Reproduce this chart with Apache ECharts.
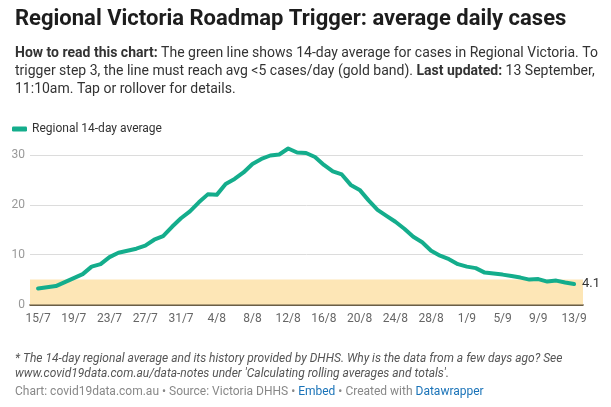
<!DOCTYPE html>
<html>
<head>
<meta charset="utf-8">
<script src="https://cdn.jsdelivr.net/npm/echarts@6/dist/echarts.min.js"></script>
<style>
html,body{margin:0;padding:0;background:#fff;}
#chart{width:611px;height:407px;}
</style>
</head>
<body>
<div id="chart"></div>
<script>
// Dates (one per day) from 15 July to 13 September
const dates = ['15/7','16/7','17/7','18/7','19/7','20/7','21/7','22/7','23/7','24/7','25/7','26/7','27/7','28/7','29/7','30/7','31/7',
  '1/8','2/8','3/8','4/8','5/8','6/8','7/8','8/8','9/8','10/8','11/8','12/8','13/8','14/8','15/8','16/8','17/8','18/8','19/8','20/8',
  '21/8','22/8','23/8','24/8','25/8','26/8','27/8','28/8','29/8','30/8','31/8',
  '1/9','2/9','3/9','4/9','5/9','6/9','7/9','8/9','9/9','10/9','11/9','12/9','13/9'];
// Regional 14-day average of daily cases
const avgCases = [3.2,3.45,3.7,4.5,5.3,6.1,7.6,8.1,9.5,10.4,10.8,11.2,11.8,13.0,13.7,15.6,17.3,
  18.7,20.5,22.1,22.0,24.2,25.2,26.5,28.2,29.2,29.9,30.1,31.3,30.5,30.4,29.6,28.0,26.7,26.1,24.0,23.0,
  20.9,19.0,17.8,16.6,15.2,13.6,12.5,10.8,9.8,9.1,
  8.1,7.6,7.3,6.4,6.2,6.0,5.7,5.4,5.0,5.1,4.6,4.8,4.4,4.1];
const xTickLabels = ['15/7','19/7','23/7','27/7','31/7','4/8','8/8','12/8','16/8','20/8','24/8','28/8','1/9','5/9','9/9','13/9'];
const yTickValues = [0,10,20,30];
const triggerBand = [0,5];

const chart = echarts.init(document.getElementById('chart'), null, {renderer:'canvas'});
const FONT = 'Roboto';
const seriesData = avgCases.map((v,i)=>[i,v]);
const option = {
  backgroundColor:'#fff',
  animation:false,
  title:[
    {text:'Regional Victoria Roadmap Trigger: average daily cases', left:10, top:3,
     textStyle:{fontFamily:FONT, fontSize:22, fontWeight:'bold', color:'#1d1d1d'}},
    {text:'{b|How to read this chart:} The green line shows 14-day average for cases in Regional Victoria. To\ntrigger step 3, the line must reach avg <5 cases/day (gold band). {b|Last updated:} 13 September,\n11:10am. Tap or rollover for details.',
     left:10, top:39,
     textStyle:{fontFamily:FONT, fontSize:14, lineHeight:18, color:'#333', fontWeight:'normal',
       rich:{b:{fontFamily:FONT, fontSize:14, lineHeight:18, color:'#333', fontWeight:'bold'}}}},
    {text:"* The 14-day regional average and its history provided by DHHS. Why is the data from a few days ago? See\nwww.covid19data.com.au/data-notes under 'Calculating rolling averages and totals'.",
     left:10, top:346,
     textStyle:{fontFamily:FONT, fontSize:12, lineHeight:15, color:'#555', fontStyle:'italic', fontWeight:'normal'}},
    {text:'{g|Chart: covid19data.com.au • Source: Victoria DHHS • }{a|Embed}{g| • Created with }{a|Datawrapper}',
     left:10, top:381,
     textStyle:{fontFamily:FONT, fontSize:12, fontWeight:'normal',
       rich:{g:{fontFamily:FONT, fontSize:12, color:'#888'}, a:{fontFamily:FONT, fontSize:12, color:'#1a73b8'}}}}
  ],
  legend:{
    left:7, top:118, icon:'roundRect', itemWidth:15, itemHeight:5,
    textStyle:{fontFamily:FONT, fontSize:12, color:'#333'},
    data:['Regional 14-day average']
  },
  grid:{left:30, right:28, top:155, bottom:102.5, containLabel:false},
  xAxis:{
    type:'value', min:-0.9, max:61,
    splitLine:{show:false},
    axisTick:{show:false},
    axisLine:{show:true, lineStyle:{color:'#3a2a0a', width:1.5}},
    axisLabel:{
      customValues: xTickLabels.map(l=>dates.indexOf(l)),
      formatter:(v)=>dates[Math.round(v)],
      fontFamily:FONT, fontSize:12, color:'#666', margin:8
    }
  },
  yAxis:{
    type:'value', min:yTickValues[0], max:yTickValues[yTickValues.length-1], interval:10,
    axisLine:{show:false}, axisTick:{show:false},
    splitLine:{lineStyle:{color:'#dcdcdc', width:1}},
    axisLabel:{fontFamily:FONT, fontSize:12, color:'#999', margin:5}
  },
  series:[{
    name:'Regional 14-day average',
    type:'line',
    data:seriesData,
    showSymbol:false, symbol:'none',
    clip:false,
    color:'#14ad8c',
    lineStyle:{width:4, color:'#14ad8c', cap:'round', join:'round'},
    z:5,
    endLabel:{show:true, distance:8, fontFamily:FONT, fontSize:13, color:'#333',
      formatter:(p)=>p.value[1].toFixed(1)},
    markArea:{
      silent:true,
      itemStyle:{color:'#fde6b6'},
      data:[[{yAxis:triggerBand[0]},{yAxis:triggerBand[1]}]]
    }
  }]
};
chart.setOption(option);
</script>
</body>
</html>
